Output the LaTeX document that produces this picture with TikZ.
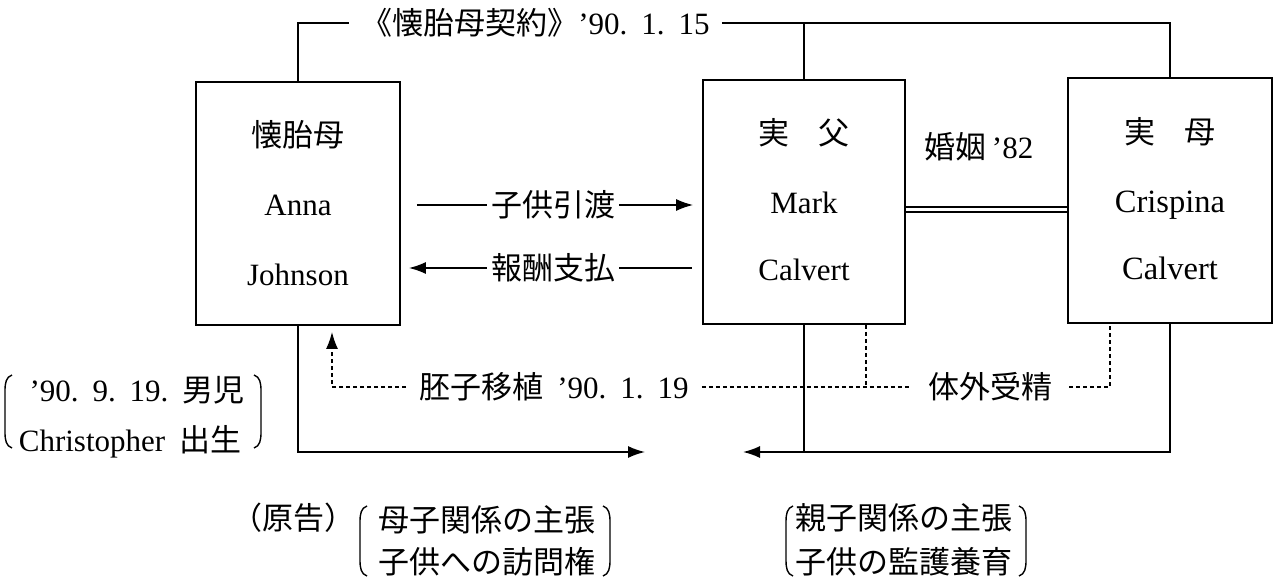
\documentclass[tikz,border=0pt]{standalone}
\usepackage{fontspec}
\setmainfont{Liberation Serif}
\newfontfamily\cjk{Noto Sans CJK JP}
\usetikzlibrary{arrows.meta,calc}
\newcommand\gp{\hspace{0.45em}}
\newcommand\lbr[3]{\draw[brk] (#1+7,#2) .. controls (#1+1,#2+2) and (#1,#2+8) .. (#1,#2+16) -- (#1,#3-16) .. controls (#1,#3-8) and (#1+1,#3-2) .. (#1+7,#3);}
\newcommand\rbr[3]{\draw[brk] (#1-7,#2) .. controls (#1-1,#2+2) and (#1,#2+8) .. (#1,#2+16) -- (#1,#3-16) .. controls (#1,#3-8) and (#1-1,#3-2) .. (#1-7,#3);}
\begin{document}
\begin{tikzpicture}[x=1pt,y=-1pt,
  every node/.style={font=\fontsize{31}{36}\selectfont, inner sep=0pt},
  box/.style={draw, line width=1.8pt},
  ln/.style={line width=1.6pt},
  dt/.style={line width=1.6pt, dash pattern=on 4pt off 3pt},
  brk/.style={line width=1.4pt},
  dbl/.style={double, line width=1.4pt, double distance=3.6pt},
  tip/.style={-{Latex[length=17pt,width=12pt]}},
  lbl/.style={inner xsep=#1},
  lbl/.default=4pt]
\useasboundingbox (0,0) rectangle (1281,577);
\fill[white] (0,0) rectangle (1281,577);
% boxes
\node[box, minimum width=204pt, minimum height=243pt] (anna) at (298,203.5) {};
\node[box, minimum width=202pt, minimum height=244pt] (mark) at (804,202) {};
\node[box, minimum width=204pt, minimum height=245pt] (crisp) at (1170,200.5) {};
% box texts
\node (a1) at (298,135) {\cjk 懐胎母};
\node (a2) at (298,205) {Anna};
\node (a3) at (298,275) {Johnson};
\node (m1t) at (804,133) {\cjk 実\hspace{0.95em}父};
\node (m2t) at (804,203) {Mark};
\node (m3t) at (804,270) {Calvert};
\node (c1) at (1170,132) {\cjk 実\hspace{0.95em}母};
\node[text depth=0pt] (c2) at (1170,202) {\fontsize{32.5}{36}\selectfont Crispina};
\node (c3) at (1170,268) {\fontsize{32.5}{36}\selectfont Calvert};
\node (mar) at (979,147) {{\cjk 婚姻}\,’82};
% top contract line
\node[lbl=12pt] (top) at (535.5,23) {{\cjk 《懐胎母契約》}’90.\gp1.\gp15};
\draw[ln] (anna.north) |- (top.west);
\draw[ln] (top.east) -| (crisp.north);
\draw[ln] (mark.north) -- (mark.north |- top.east);
% marriage
\draw[dbl] ($(mark.east)+(0,7.5)$) -- ($(crisp.west |- mark.east)+(0,7.5)$);
% child handover / payment
\node[lbl] (give) at (553,205) {\cjk 子供引渡};
\node[lbl] (pay) at (553,268) {\cjk 報酬支払};
\draw[ln] ($(anna.east |- give)+(16,0)$) -- (give.west);
\draw[ln,tip] (give.east) -- ($(mark.west |- give)+(-9,0)$);
\draw[ln,tip] (pay.west) -- ($(anna.east |- pay)+(8,0)$);
\draw[ln] (pay.east) -- ($(mark.west |- pay)+(-10,0)$);
% embryo transfer / IVF
\node[lbl=13pt] (emb) at (554,387) {{\cjk 胚子移植}\gp’90.\gp1.\gp19};
\node[lbl=17pt] (ivf) at (990,387) {\cjk 体外受精};
\draw[dt,tip] (emb.west) -| ($(anna.south)+(34,6)$);
\draw[dt] (emb.east) -- (ivf.west);
\draw[dt] (ivf.east) -| ($(crisp.south)+(-60,0)$);
\coordinate (mj) at ($(mark.south)+(62,0)$);
\draw[dt] (mj) -- (mj |- emb.east);
% custody lines
\coordinate (lt) at (645,452);
\coordinate (rt) at (743,452);
\draw[ln,tip] (anna.south) |- (lt);
\draw[ln,tip] (crisp.south) |- (rt);
\draw[ln] (mark.south) -- (mark.south |- rt);
% birth note
\node (b1) at (137,390) {’90.\gp9.\gp19.\gp{\cjk 男児}};
\node (b2) at (130,442) {Christopher\gp{\cjk 出生}};
\lbr{5}{375}{448}
\rbr{261}{375}{448}
% claims
\node (pl) at (293,518) {\cjk （原告）};
\node (s1) at (487,520) {\cjk 母子関係の主張};
\node (s2) at (487,562) {\cjk 子供への訪問権};
\lbr{360}{506}{576}
\rbr{610}{506}{576}
\node (p1) at (904,518) {\cjk 親子関係の主張};
\node (p2) at (904,562) {\cjk 子供の監護養育};
\lbr{786}{506}{576}
\rbr{1026}{506}{576}
\end{tikzpicture}
\end{document}
